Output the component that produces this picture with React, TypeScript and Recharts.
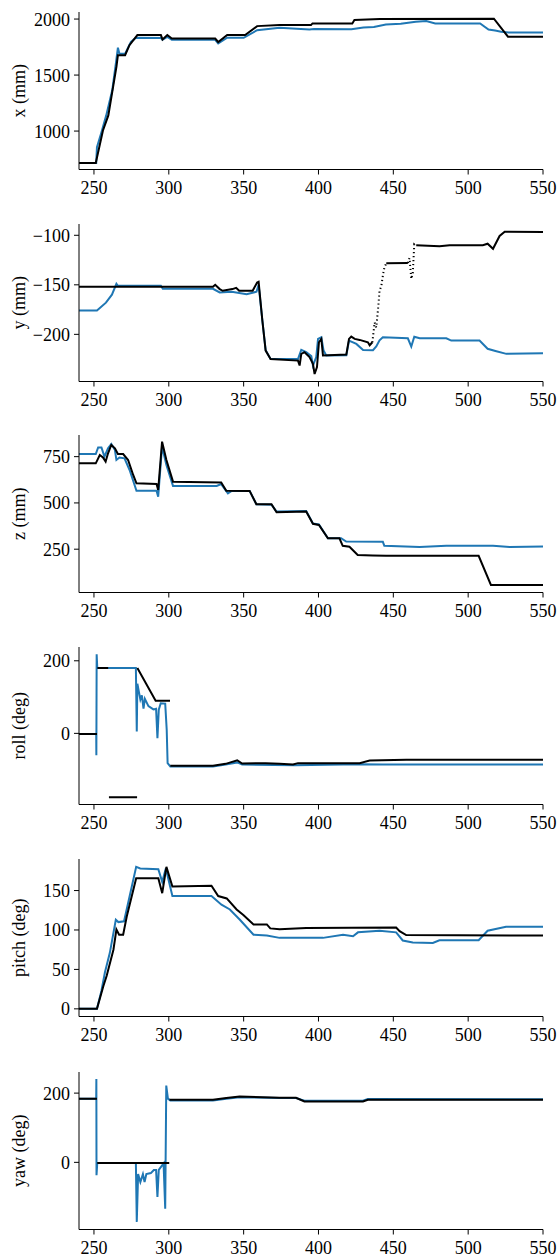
import { LineChart, Line, XAxis, YAxis } from 'recharts'

const timeTicks = [250, 300, 350, 400, 450, 500, 550]

// x (mm)
const xBlue = [
  [240, 716], [251.5, 716], [252, 856], [255, 990], [258.2, 1140], [262.2, 1364], [264.9, 1632], [266, 1745],
  [267, 1690], [270.8, 1690], [274.7, 1797], [278, 1833], [294.7, 1830], [295.8, 1815], [299, 1840], [302, 1815],
  [331, 1815], [333, 1782], [339, 1833], [350, 1833], [359, 1901], [374, 1922], [394, 1907], [397, 1912],
  [422, 1910], [430, 1925], [437, 1930], [445, 1952], [455, 1958], [465, 1976], [472, 1982], [478, 1961],
  [508, 1961], [513.6, 1907], [518, 1897], [522, 1887], [527, 1880], [550, 1880]
]
const xBlack = [
  [240, 716], [251.2, 716], [256, 1005], [259.6, 1140], [265, 1573], [266, 1677], [270.8, 1677], [273.7, 1767],
  [279, 1857], [294.7, 1857], [295.8, 1818], [299, 1857], [302, 1826], [331, 1826], [333, 1795], [339, 1857],
  [351, 1857], [359, 1937], [374, 1946], [395, 1946], [396, 1961], [422.6, 1961], [424, 1991], [441, 2000],
  [517.2, 2003], [526.6, 1843], [550, 1843]
]

// y (mm)
const yBlue = [
  [240, -176], [252, -176], [258, -168], [262, -160], [265, -149], [266, -151], [294.7, -151], [296, -154],
  [329.5, -154], [334, -157.7], [342, -157], [352, -159.4], [358.6, -157], [360, -150], [362.5, -186],
  [364.7, -216], [368, -225], [386.3, -225], [388.5, -215.7], [391.8, -218], [395.2, -222], [396.3, -231.5],
  [398.5, -223], [399.7, -204.6], [401.9, -203], [403.4, -216.4], [405.2, -221.4], [418.6, -221], [420.4, -206.3],
  [425.3, -209.7], [429.8, -215.7], [436.4, -216], [438.6, -212.3], [440.8, -206], [443, -203], [459.7, -204],
  [462, -212.3], [464, -202.4], [467.6, -204], [485.4, -204], [488.7, -206.3], [507.6, -206.3], [513, -214.6],
  [518.8, -217], [525.5, -219.7], [550, -219]
]
const yBlack = [
  [240, -152], [329.5, -152], [331, -150], [334, -154.3], [336, -156], [342.5, -154.3], [345, -153], [347, -156],
  [356, -156], [359, -147.7], [360, -147], [362.5, -186], [364.7, -216.4], [368, -224.8], [386.3, -226.5],
  [387.4, -231.5], [388.5, -219.8], [390.7, -218], [394, -223], [396.3, -229.7], [397.4, -240], [399, -233],
  [400.3, -208], [401.9, -204.7], [403, -221.4], [418.6, -220.4], [420.4, -204.6], [421.9, -202.3],
  [424.2, -204.6], [427.5, -205.6], [433, -208], [434.2, -211], [436, -208], [436.5, null],
  [445.3, -128.2], [459.7, -128], [460, null],
  [465.3, -110], [480.9, -111], [487.6, -110], [509.8, -110], [513, -108.5], [516.6, -113.6], [521, -100.7],
  [524.4, -96.4], [550, -96.7]
]
const yBlackSparse = [
  [436, -208], [437.5, -188], [438.6, -193], [439.7, -176], [440.8, -156], [442, -151], [443, -141],
  [444, -132.6], [445.3, -128.2], [445.5, null],
  [459.7, -128], [460.8, -123], [462, -144], [463, -138], [464, -109], [465.3, -110]
]

// z (mm)
const zBlue = [
  [240, 764], [251.2, 764], [252.8, 800], [255, 800], [257, 750], [259.4, 795], [261.6, 818], [264, 786],
  [265, 732], [267, 745], [270.4, 741], [273.8, 678], [278.4, 566], [291.8, 566], [292.9, 534], [295.5, 804],
  [298.4, 705], [302.8, 592], [332, 592], [335, 602], [339.5, 552], [342, 565], [354, 565], [358.5, 493],
  [368.6, 490], [372, 453], [391.8, 456], [396.3, 389], [400.3, 384], [406.3, 309], [415.1, 309], [418.5, 291],
  [443, 290], [444, 268], [467.6, 262], [485.4, 268], [516.6, 268], [527.7, 262], [550, 265]
]
const zBlack = [
  [240, 714], [251.2, 714], [253.9, 759], [256, 746], [257.8, 723], [259.4, 768], [261.6, 813], [264, 795],
  [266, 764], [269.5, 764], [272.8, 732], [276.2, 651], [278.4, 606], [291.8, 602], [292.9, 570], [295.5, 831],
  [298.4, 732], [302.8, 615], [335, 611], [338.4, 566], [354, 565], [358.5, 493], [368.6, 493], [372, 450],
  [391.8, 453], [396.3, 387], [400.3, 381], [406.3, 309], [414, 309], [416.2, 268], [420.7, 263], [426.2, 219],
  [436.2, 216], [445.1, 214], [507, 214], [515.2, 57], [550, 57]
]

// roll (deg)
const rollBlue = [
  [240, -2], [251.5, -2], [251.6, -60], [251.8, 218], [252.2, 180], [278, 180], [278.6, 5], [279, 137],
  [280, 115], [281, 93], [282, 105], [283.1, 68], [284, 95], [286.4, 75], [289.7, 66], [291.5, 68],
  [292.4, -13], [293.3, 65], [294.6, 83], [297.6, 82], [298.6, 10], [299.2, -82], [301, -91], [329.5, -91],
  [338, -86], [345.7, -80], [349, -86], [384, -88], [427.5, -85], [443, -86], [550, -86]
]
const rollBlack = [
  [240, -2], [252, -2], [252.1, null], [252.3, 180], [259.5, 180], [259.7, null], [260, -176], [278.8, -176],
  [278.9, null], [279, 180], [291.2, 90], [300.8, 90], [300.9, null], [301, -89], [329.5, -89], [338, -84],
  [345.7, -74], [349, -83], [364.7, -82], [374, -84], [383, -86], [386.3, -82], [427.5, -82], [434.2, -75],
  [458.7, -73], [550, -73]
]

// pitch (deg)
const pitchBlue = [
  [240, 0], [252, 0], [255, 23], [257.3, 46], [260.6, 71], [264.6, 113], [266.3, 110], [270.1, 111],
  [278.2, 180], [280.9, 178], [293, 177], [295.6, 161], [298, 178], [302.4, 143], [328.5, 143], [335.2, 132],
  [340.8, 126], [347.5, 113], [356.6, 94], [365.5, 93], [374, 90], [403, 90], [416.4, 94], [423.1, 92],
  [426.4, 97], [440.8, 99], [451.9, 97], [456.3, 86.7], [463, 84], [476.4, 83.6], [480.8, 87], [507, 87],
  [513, 99], [525.3, 104], [550, 104]
]
const pitchBlack = [
  [240, 0], [252, 0], [256.3, 29], [258.5, 42], [263, 75], [265, 100.6], [266.8, 94], [269.5, 94],
  [271.9, 117], [278.2, 165.6], [293, 165.6], [295.6, 146.7], [298.4, 180], [302.4, 155], [328.5, 156],
  [333, 143], [338.7, 140], [345.3, 126], [349.8, 119], [356.6, 107], [365.5, 107], [367.8, 102], [374, 101],
  [391.8, 102.5], [451.9, 103], [454.2, 98.5], [458.6, 93.5], [550, 93]
]

// yaw (deg)
const yawBlue = [
  [240, 184], [251.5, 184], [251.6, 241], [251.7, -37], [252.2, -2], [278, -2], [278.6, -172], [279.5, -34],
  [281, -57], [282.7, -34], [283.8, -57], [285, -34], [288, -31], [290, -22], [291.5, -22], [292.4, -100],
  [293.3, -22], [296.5, -3], [297.6, -134], [298.3, 222], [299.4, 184], [301, 179], [329.5, 179], [338.4, 184],
  [347.3, 188], [374, 186], [385, 186], [390.6, 178], [429.7, 178], [433, 183], [550, 182]
]
const yawBlack = [
  [240, 184], [252, 184], [252.1, null], [252.2, -2], [300.3, -2], [300.4, null], [300.5, 181], [329.5, 181],
  [338.4, 186], [347.3, 190], [374, 186.7], [385, 186.7], [390.6, 176], [429.7, 176], [433, 181], [550, 181]
]

const BLUE = '#1f77b4'
const FONT = "'Liberation Serif', 'Times New Roman', serif"
const PH = 157.5 // plot height
const TOP = 10

const pts = (a: (number | null)[][]) => a.map(([t, v]) => ({ t, v }))
const fmt = (v: number) => String(v).replace('-', '\u2212')

const XTick = (p: any) => (
  <text x={p.x} y={p.y} dy="0.71em" textAnchor="middle" fontSize={18} fontFamily={FONT} fill="#000">
    {fmt(p.payload.value)}
  </text>
)
const YTick = (p: any) => (
  <text x={p.x} y={p.y} dy="0.36em" textAnchor="end" fontSize={18} fontFamily={FONT} fill="#000">
    {fmt(p.payload.value)}
  </text>
)

type Series = { data: (number | null)[][]; color: string; dash?: string }

function Panel({ top, label, domain, ticks, series }: {
  top: number; label: string; domain: number[]; ticks: number[]; series: Series[]
}) {
  const cy = TOP + PH / 2
  return (
    <div style={{ position: 'absolute', left: 0, top: top - TOP }}>
      <LineChart width={560} height={PH + TOP + 35} margin={{ top: TOP, right: 17, bottom: 0, left: 0 }}>
        <XAxis
          type="number" dataKey="t" domain={[240, 550]} ticks={timeTicks} allowDataOverflow
          height={35} tickSize={5} tickMargin={7} stroke="#000" tick={XTick}
        />
        <YAxis
          type="number" dataKey="v" domain={domain} ticks={ticks} allowDataOverflow
          width={79} tickSize={5} tickMargin={4} stroke="#000" tick={YTick}
          label={() => (
            <text x={19} y={cy} transform={`rotate(-90 19 ${cy})`} textAnchor="middle"
              dominantBaseline="central" fontSize={18} fontFamily={FONT} fill="#000">{label}</text>
          )}
        />
        {series.map((s, i) => (
          <Line key={i} data={pts(s.data)} dataKey="v" type="linear" stroke={s.color} strokeWidth={2}
            strokeDasharray={s.dash} dot={false} connectNulls={false} isAnimationActive={false} />
        ))}
      </LineChart>
    </div>
  )
}

export default function App() {
  return (
    <div style={{ position: 'absolute', left: 0, top: 0, width: 560, height: 1254, background: '#fff' }}>
      <Panel top={12} label="x (mm)" domain={[657, 2063]} ticks={[1000, 1500, 2000]}
        series={[{ data: xBlue, color: BLUE }, { data: xBlack, color: '#000' }]} />
      <Panel top={223.5} label="y (mm)" domain={[-247.6, -88.6]} ticks={[-200, -150, -100]}
        series={[{ data: yBlue, color: BLUE }, { data: yBlack, color: '#000' },
          { data: yBlackSparse, color: '#000', dash: '1.2 2.8' }]} />
      <Panel top={435} label="z (mm)" domain={[16, 867]} ticks={[250, 500, 750]}
        series={[{ data: zBlue, color: BLUE }, { data: zBlack, color: '#000' }]} />
      <Panel top={647.3} label="roll (deg)" domain={[-196, 238]} ticks={[0, 200]}
        series={[{ data: rollBlue, color: BLUE }, { data: rollBlack, color: '#000' }]} />
      <Panel top={859.3} label="pitch (deg)" domain={[-9.7, 190]} ticks={[0, 50, 100, 150]}
        series={[{ data: pitchBlue, color: BLUE }, { data: pitchBlack, color: '#000' }]} />
      <Panel top={1071.7} label="yaw (deg)" domain={[-194, 261]} ticks={[0, 200]}
        series={[{ data: yawBlue, color: BLUE }, { data: yawBlack, color: '#000' }]} />
    </div>
  )
}
